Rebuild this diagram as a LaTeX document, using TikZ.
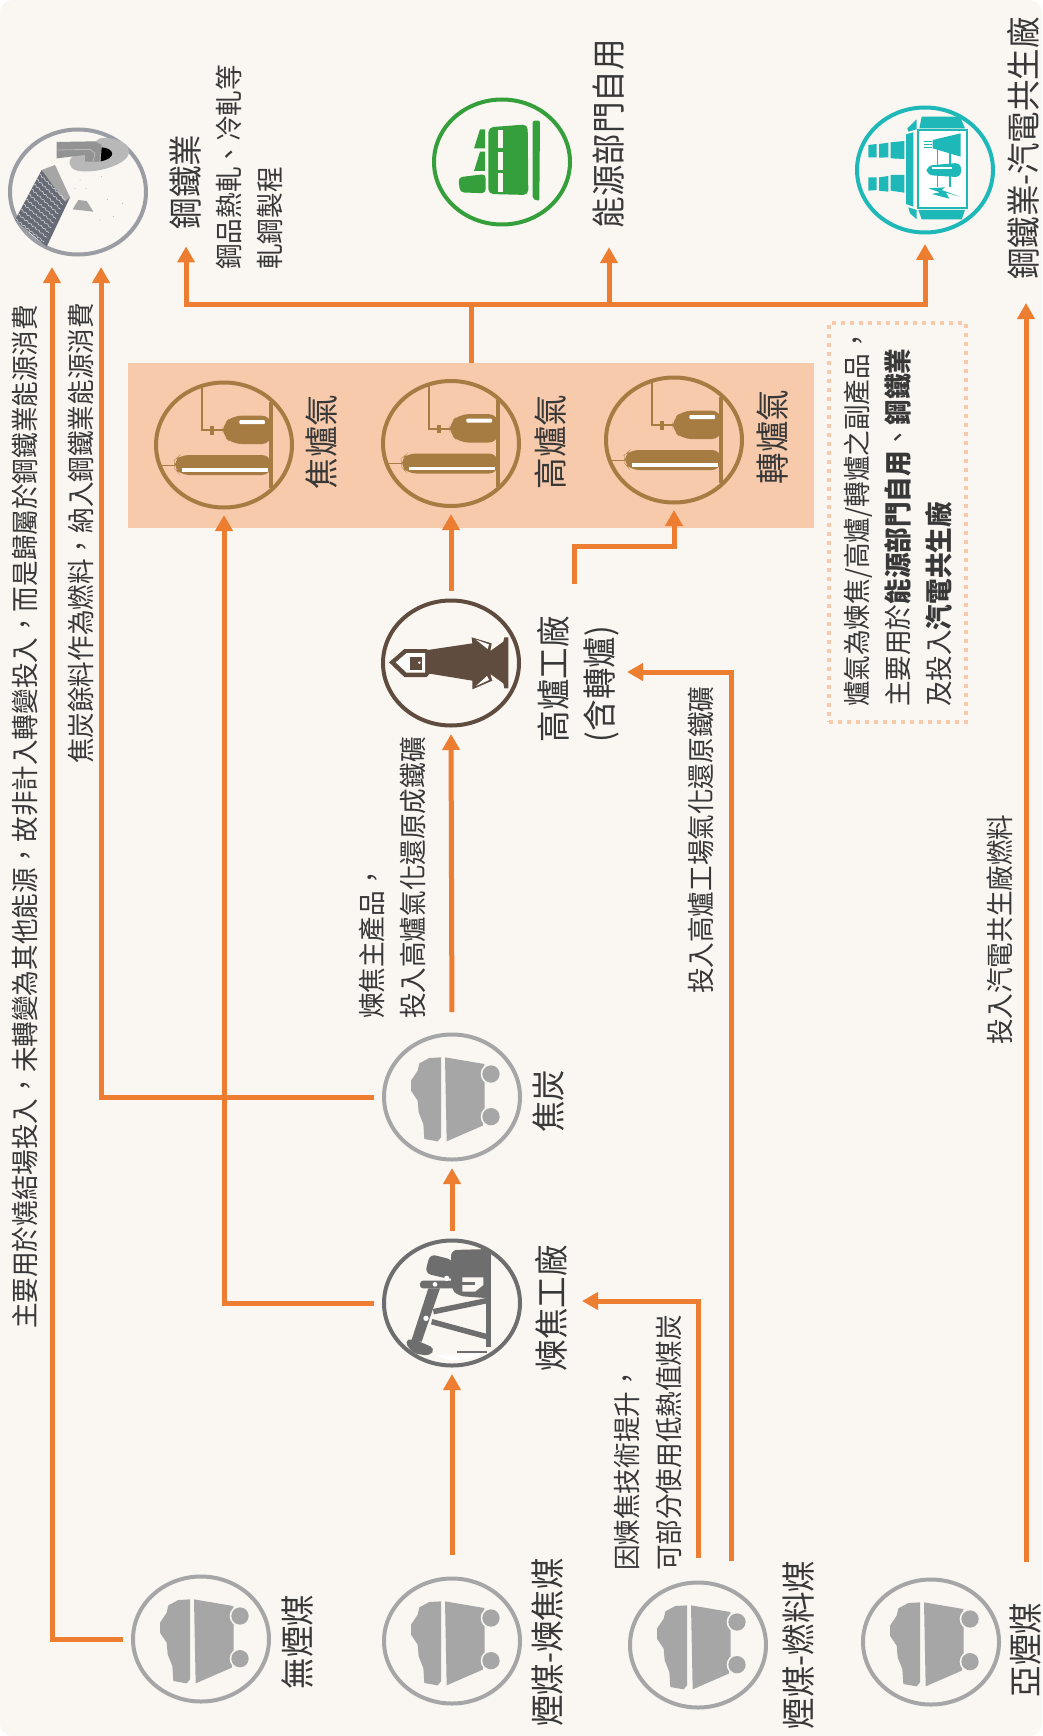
\documentclass[tikz,border=0pt]{standalone}
\usepackage{fontspec}
\setmainfont{Noto Sans CJK TC}
\usetikzlibrary{arrows.meta, positioning, shapes.geometric, decorations.pathmorphing, calc}
\definecolor{paper}{HTML}{FAF7F2}
\definecolor{flowc}{HTML}{ED7D31}
\definecolor{gasbg}{HTML}{F7CAAC}
\definecolor{inkc}{HTML}{383838}
\definecolor{coalc}{HTML}{A6A6A6}
\definecolor{gasc}{HTML}{A67C42}
\definecolor{bfc}{HTML}{5F4C3F}
\definecolor{plantc}{HTML}{6E6E6E}
\definecolor{greenc}{HTML}{35A03B}
\definecolor{tealc}{HTML}{1FB8B8}
\definecolor{sinterc}{HTML}{9A9DA3}
\definecolor{sinterd}{HTML}{666B75}
\tikzset{
    %Define standard arrow tip
    >={Triangle[width=17pt,length=16pt]},
}
\tikzset{
    flow/.style={->, draw=flowc, fill=none, line width=5pt},
    badge/.style={draw, shape=ellipse, minimum width=136pt, minimum height=125pt,
                  inner sep=0pt, outer sep=0pt, line width=4pt},
    bigname/.style={rotate=90, yscale=1.08, anchor=north, inner sep=0pt, text=inkc, align=left,
                    font=\fontsize{31.5}{42.5}\selectfont},
    note/.style={rotate=90, yscale=1.08, anchor=west, inner sep=0pt, text=inkc, align=left,
                 font=\fontsize{25.6}{38}\selectfont},
    coalicon/.pic={
      \begin{scope}[shift={(-228,-219)}]
        \fill[coalc] (195,100) -- (160,102) -- (130,118) -- (125,140) -- (105,170) -- (105,200)
             -- (125,230) -- (128,265) -- (142,300) -- (145,345) -- (185,352) -- (195,340) -- cycle;
        \fill[coalc] (207,100) -- (325,120) -- (326,150) -- (326,215) -- (326,280) -- (320,305) -- (212,352) -- cycle;
        \foreach \wy in {150,278} {
          \fill[paper] (345,\wy) ellipse [x radius=31, y radius=31];
          \fill[coalc] (345,\wy) ellipse [x radius=26, y radius=26];
        }
      \end{scope}
    },
    gasicon/.pic={
      \begin{scope}[shift={(-237,-225)}]
        \draw[gasc, line width=4.5pt] (378,95) -- (378,355);
        \fill[gasc, rounded corners=9pt] (378,137) -- (262,137) -- (232,165) -- (232,195) -- (262,222) -- (378,222) -- cycle;
        \fill[white, rounded corners=1pt] (283,150) rectangle (360,162);
        \draw[gasc, line width=1.7pt] (170,52) -- (170,181) -- (235,181);
        \draw[gasc, line width=4pt] (200,168) -- (200,194);
        \fill[gasc, rounded corners=9pt] (378,255) -- (105,255) -- (88,270) -- (88,295) -- (105,315) -- (378,315) -- cycle;
        \fill[white] (112,295) rectangle (368,305);
        \draw[gasc, line width=1pt] (50,285) -- (90,285);
      \end{scope}
    },
    bficon/.pic={
      \begin{scope}[shift={(-228,-219)}]
        \fill[bfc] (158,180) -- (292,160) -- (290,142) -- (350,160) -- (346,183) -- (385,155) -- (388,142)
             -- (400,142) -- (400,295) -- (388,295) -- (385,280) -- (346,252) -- (352,272) -- (292,298)
             -- (292,272) -- (158,250) -- cycle;
        \fill[white] (303,149) -- (342,163) -- (338,177) -- cycle;
        \fill[white] (303,288) -- (342,270) -- (336,258) -- cycle;
        \fill[bfc] (42,217) -- (88,177) -- (155,177) -- (165,186) -- (165,250) -- (155,261) -- (88,261) -- cycle;
        \fill[white] (62,217) -- (95,189) -- (150,189) -- (150,248) -- (95,248) -- cycle;
        \fill[bfc] (105,200) rectangle (142,240);
        \fill[white] (133,218) circle (4);
      \end{scope}
    },
    planticon/.pic={
      \begin{scope}[shift={(-231,-219)}]
        \fill[plantc] (332,60) rectangle (347,350);
        \fill[plantc, rounded corners=6pt] (228,60) -- (345,57) -- (345,205) -- (250,198) -- (228,175) -- cycle;
        \fill[paper] (262,142) -- (325,142) -- (325,165) -- (300,185) -- (262,185) -- cycle;
        \fill[plantc] (262,155) rectangle (300,165);
        \fill[plantc, rounded corners=6pt] (165,72) -- (235,90) -- (235,150) -- (150,130) -- cycle;
        \fill[plantc, rounded corners=3pt] (135,152) rectangle (240,175);
        \fill[white] (215,145) circle (8);
        \fill[plantc] (160,175) -- (195,175) -- (140,335) -- (108,335) -- cycle;
        \fill[white] (180,163) circle (7);
        \fill[white] (153,265) circle (8);
        \draw[plantc, line width=5.5pt] (175,245) -- (335,212);
        \draw[plantc, line width=5.5pt] (170,275) -- (335,320);
        \fill[plantc, rounded corners=5pt] (88,335) -- (110,325) -- (180,355) -- (165,378) -- (115,370) -- cycle;
        \fill[white] (180,375) -- (325,370) -- (285,385) -- (225,392) -- cycle;
        \draw[plantc, line width=2pt] (245,366) -- (335,366);
      \end{scope}
    },
    energyicon/.pic={
      \begin{scope}[shift={(-231,-216)}]
        \fill[greenc, rounded corners=2pt] (323,92) -- (345,92) -- (343,333) -- (323,327) -- cycle;
        \fill[greenc, rounded corners=5pt] (190,112) -- (308,103) -- (310,315) -- (190,312) -- cycle;
        \foreach \sy in {120,185,250}
          \fill[paper] (218,\sy) rectangle ++(17,55);
        \fill[greenc] (165,118) -- (180,118) -- (180,175) -- (147,175) -- cycle;
        \fill[greenc] (165,185) -- (180,185) -- (180,243) -- (147,243) -- cycle;
        \fill[greenc, rounded corners=4pt] (100,262) -- (182,252) -- (182,310) -- (105,307) -- cycle;
      \end{scope}
    },
    steamicon/.pic={
      \begin{scope}[shift={(-225,-210)}]
        \fill[tealc] (55,135) -- (80,132) -- (80,172) -- (55,172) -- cycle;
        \fill[tealc] (87,132) -- (115,128) -- (115,172) -- (87,173) -- cycle;
        \fill[tealc] (122,127) -- (163,123) -- (163,177) -- (122,175) -- cycle;
        \fill[tealc] (55,232) -- (80,232) -- (80,270) -- (55,272) -- cycle;
        \fill[tealc] (87,232) -- (115,228) -- (115,275) -- (87,272) -- cycle;
        \fill[tealc] (122,225) -- (163,225) -- (163,278) -- (122,272) -- cycle;
        \fill[tealc] (168,103) -- (190,97) -- (190,320) -- (168,312) -- cycle;
        \fill[tealc] (172,85) -- (200,58) -- (200,88) -- (175,95) -- cycle;
        \fill[tealc] (175,322) -- (200,330) -- (200,358) -- (180,340) -- cycle;
        \fill[tealc] (215,50) -- (330,50) -- (345,85) -- (208,85) -- cycle;
        \fill[tealc] (205,330) -- (345,330) -- (335,358) -- (215,358) -- cycle;
        \draw[tealc, fill=white, line width=1.7pt] (205,90) rectangle (352,325);
        \fill[tealc] (248,120) -- (332,100) -- (332,170) -- (248,145) -- cycle;
        \foreach \hy in {125,133,141}
          \draw[tealc, line width=.5pt] (222,\hy) -- (246,\hy);
        \draw[tealc, line width=1.2pt] (262,148) -- (262,262) (300,155) -- (300,262);
        \fill[tealc, rounded corners=6pt] (230,197) -- (333,188) -- (333,232) -- (230,225) -- cycle;
        \fill[white] (245,201) rectangle (305,206);
        \fill[tealc] (235,265) -- (285,262) -- (275,270) -- (330,290) -- (288,278) -- (298,296) -- (245,282) -- (270,277) -- cycle;
      \end{scope}
    },
    sintericon/.pic={
      \begin{scope}[shift={(-234,-216)}]
        \fill[coalc!80] (300,55) .. controls (360,50) and (395,75) .. (385,105) .. controls (370,140) and (270,165) .. (225,150) .. controls (205,140) and (205,120) .. (215,112) -- cycle;
        \fill[gray!85] (170,66) -- (285,64) -- (305,75) -- (298,125) -- (255,125) -- (255,105) -- (170,115) -- cycle;
        \draw[gray!55, line width=.8pt] (172,90) -- (270,88) -- (285,100) -- (280,122);
        \fill[black] (305,82) .. controls (345,85) and (350,115) .. (302,124) -- cycle;
        \fill[coalc] (235,240) -- (260,243) -- (280,275) -- (218,268) -- cycle;
        \fill[sinterd] (125,150) -- (210,232) -- (140,380) -- (45,300) -- cycle;
        \fill[coalc] (125,150) -- (165,135) -- (210,232) -- (195,245) -- cycle;
        \foreach \k in {0,...,9}
          \draw[white!85!sinterd, line width=.45pt, decorate, decoration={snake, amplitude=.7pt, segment length=5pt}]
               ($(118,162)+\k*(-8,15)$) -- ($(196,240)+\k*(-7,14)$);
        \foreach \dx/\dy in {240/180,258/205,305/170,322/238,340/290,300/300,368/250,225/205}
          \fill[coalc] (\dx,\dy) circle (1.5);
      \end{scope}
    },
}
\begin{document}
\begin{tikzpicture}[x=1pt, y=-1pt]
    \useasboundingbox (0,0) rectangle (1042,1736);
    \fill[paper, rounded corners=12pt] (0,0) rectangle (1042,1736);

    \node [fill=gasbg, inner sep=0pt, minimum width=686pt, minimum height=165pt] (gasbox) at (471,445.5) {};

    % top row
    \node [badge, draw=sinterc] (sinter) at (78,192) {};
    \node [badge, draw=greenc] (energy) at (502,162) {};
    \node [badge, draw=tealc] (steam) at (925,170) {};
    % gas row
    \node [badge, draw=gasc] (gasA) at (224,445) {};
    \node [badge, draw=gasc] (gasB) at (451,443.5) {};
    \node [badge, draw=gasc] (gasC) at (674,440) {};
    % middle column
    \node [badge, draw=bfc] (furnace) at (451,663) {};
    \node [badge, draw=coalc] (coke) at (452,1097) {};
    \node [badge, draw=plantc] (plant) at (452,1303) {};
    % coal row
    \node [badge, draw=coalc] (coalA) at (201,1639) {};
    \node [badge, draw=coalc] (coalB) at (452,1641) {};
    \node [badge, draw=coalc] (coalC) at (698,1645) {};
    \node [badge, draw=coalc] (coalD) at (931,1642) {};

    \pic [scale=.3333] at (sinter) {sintericon};
    \pic [scale=.3333] at (energy) {energyicon};
    \pic [scale=.3333] at (steam) {steamicon};
    \foreach \g in {gasA,gasB,gasC} \pic [scale=.3333] at (\g) {gasicon};
    \pic [scale=.3333] at (furnace) {bficon};
    \pic [scale=.3333] at (plant) {planticon};
    \foreach \c in {coke,coalA,coalB,coalC,coalD} \pic [scale=.3333] at (\c) {coalicon};

    \node [yshift=10pt, right=24pt of sinter, bigname] (steelname) {鋼鐵業};
    \node [yshift=28pt, right=23pt of energy, bigname] (energyname) {能源部門自用};
    \node [yshift=21.5pt, right=14pt of steam, bigname] (steamname) {鋼鐵業-汽電共生廠};
    \node [yshift=3pt, right=14pt of gasA, bigname] (gasAname) {焦爐氣};
    \node [yshift=1.5pt, right=16pt of gasB, bigname] (gasBname) {高爐氣};
    \node [yshift=3pt, right=15pt of gasC, bigname] (gasCname) {轉爐氣};
    \node [yshift=-16pt, right=18pt of furnace, bigname] (furnacename) {高爐工廠\\(含轉爐)};
    \node [yshift=-4pt, right=13pt of coke, bigname] (cokename) {焦炭};
    \node [yshift=-5pt, right=15pt of plant, bigname] (plantname) {煉焦工廠};
    \node [yshift=-3pt, right=12pt of coalA, bigname] (coalAname) {無煙煤};
    \node [yshift=-1.5pt, right=12pt of coalB, bigname] (coalBname) {煙煤-煉焦煤};
    \node [right=17pt of coalC, bigname] (coalCname) {煙煤-燃料煤};
    \node [yshift=-8pt, right=11pt of coalD, bigname] (coalDname) {亞煙煤};

    \node [note] (steelnote) at (249.5,270) {鋼品熱軋、冷軋等\\軋鋼製程};
    \node [note] (sinternoteA) at (25,1329) {主要用於燒結場投入，未轉變為其他能源，故非計入轉變投入，而是歸屬於鋼鐵業能源消費};
    \node [note] (sinternoteB) at (81,764) {焦炭餘料作為燃料，納入鋼鐵業能源消費};
    \node [note] (cokenote) at (392,1019) {煉焦主產品，\\投入高爐氣化還原成鐵礦};
    \node [note] (bfnote) at (701,994) {投入高爐工場氣化還原鐵礦};
    \node [note] (steamnote) at (1000,1045) {投入汽電共生廠燃料};
    \node [note] (thermalnote) at (648,1571) {因煉焦技術提升，\\可部分使用低熱值煤炭};

    \node [draw=gasbg, line width=4pt, dash pattern=on 4pt off 5pt, minimum width=137pt,
           minimum height=399pt, inner sep=0pt] (gasnotebox) at (897.5,522.5) {};
    \node [note] (gasnote) at (898,707) {爐氣為煉焦/高爐/轉爐之副產品，\\主要用於\textbf{能源部門自用}、\textbf{鋼鐵業}\\及投入\textbf{汽電共生廠}};

    \coordinate (sinterinA) at (52,267);
    \coordinate (sinterinB) at (101,267);
    \coordinate (busjoin) at (471,304);
    \coordinate (furnaceout) at (574,584);
    \coordinate (furnaceturn) at (574,546);
    \coordinate (plantin) at (582,1301);
    \coordinate (furnacein) at (627,672);
    \coordinate (thermalout) at (731,1561);
    \coordinate (subout) at (1026,1562);
    \coordinate (steamin) at (1026,303);

    \draw [flow, shorten <=23.5pt, shorten >=8.5pt] (coalB.north) -- (plant.south);
    \draw [flow, shorten <=9.5pt, shorten >=8.5pt] (plant.north) -- (coke.south);
    \draw [flow, shorten <=22.5pt, shorten >=8.5pt] (coke.north) -- (furnace.south);
    \draw [flow, shorten <=9.5pt, shorten >=8pt] (furnace.north) -- (gasB.south);
    \draw [flow, shorten <=10pt] (coalA.west) -| (sinterinA);
    \draw [flow, shorten <=10pt] (coke.west) -| (sinterinB);
    \draw [flow, shorten <=10pt, shorten >=7.5pt] (plant.west) -| (gasA.south);
    \draw [flow, shorten <=24.5pt] (coalC.north) |- (plantin);
    \draw [flow] (thermalout) |- (furnacein);
    \draw [flow, shorten >=7.5pt] (furnaceout) -- (furnaceturn) -| (gasC.south);
    \draw [flow] (subout) -- (steamin);
    \draw [flow, shorten >=17pt] (gasbox.north) -- (busjoin) -| (steelname.west);
    \draw [flow, shorten >=18.5pt] (busjoin) -| (energyname.west);
    \draw [flow, shorten >=11.5pt] (busjoin) -| (steam.south);
\end{tikzpicture}
\end{document}
